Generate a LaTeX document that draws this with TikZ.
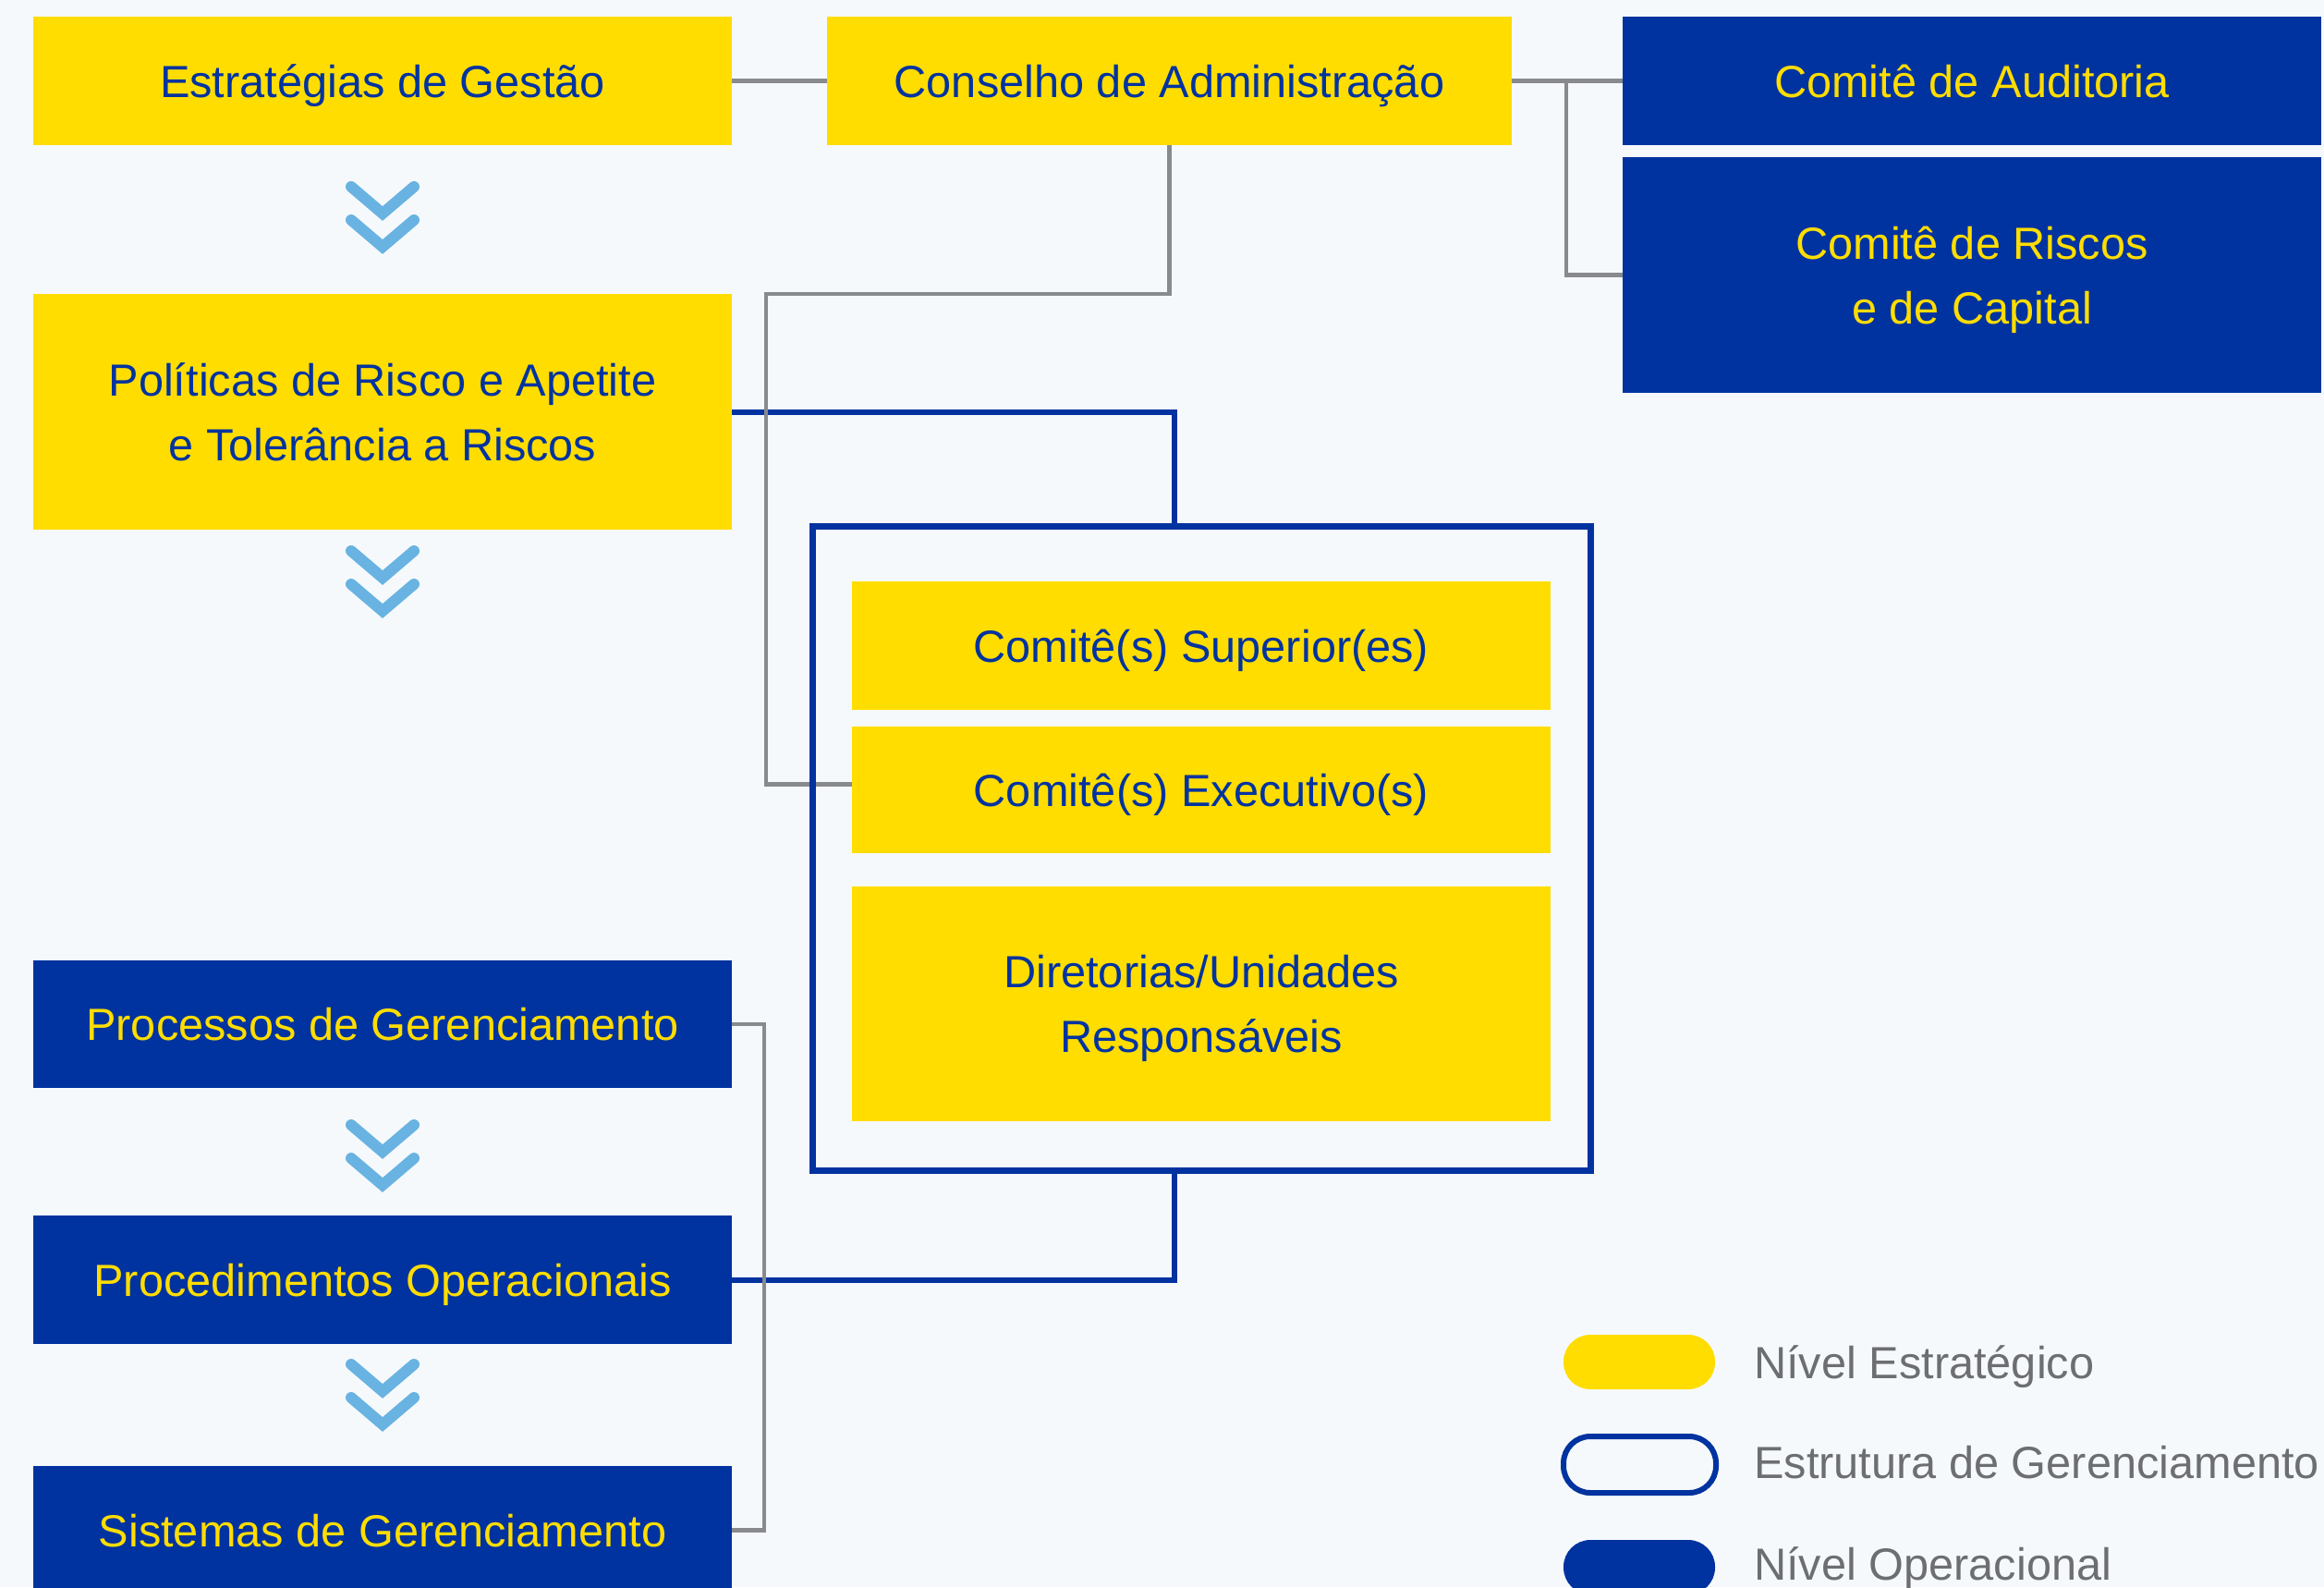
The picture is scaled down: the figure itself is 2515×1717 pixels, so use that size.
\documentclass[tikz,border=0pt]{standalone}
\usepackage{fontspec}
\setmainfont{Liberation Sans}
\definecolor{bg}{HTML}{F6F9FC}
\definecolor{ylw}{HTML}{FFDD00}
\definecolor{blu}{HTML}{0033A0}
\definecolor{chv}{HTML}{69B3E2}
\definecolor{gry}{HTML}{898A8D}
\definecolor{txtg}{HTML}{6D6E71}
\tikzset{
  x=1pt,y=-1pt,
  box/.style={inner sep=0pt, minimum width=756pt, align=center,
     font=\fontsize{48.7}{70}\selectfont, text height=35pt, text depth=0pt},
  two/.style={text height=105pt, text depth=0pt},
  ybox/.style={box, fill=ylw, text=blu},
  bbox/.style={box, fill=blu, text=ylw},
  gline/.style={draw=gry, line width=4.5pt},
  bline/.style={draw=blu, line width=6pt},
  chevline/.style={draw=chv, line width=12pt, line cap=round, line join=miter},
  pill/.style={inner sep=0pt, minimum width=164pt, minimum height=59pt, rounded corners=29pt},
  legtext/.style={anchor=base west, inner sep=0pt, text=txtg, font=\fontsize{48.7}{56}\selectfont}
}
\newcommand\chevron[2]{%
  \draw[chevline] (#1-34,#2) -- (#1,#2+29) -- (#1+34,#2);
  \draw[chevline] (#1-34,#2+36) -- (#1,#2+65) -- (#1+34,#2+36);
}
\begin{document}
\begin{tikzpicture}
\useasboundingbox (0,0) rectangle (2515,1717);
\fill[bg] (0,0) rectangle (2515,1717);

% boxes
\node[ybox, minimum height=139pt] (est) at (414,87.5) {Estratégias de Gestão};
\node[ybox, two, minimum height=255pt] (pol) at (414,445.5) {Políticas de Risco e Apetite\\e Tolerância a Riscos};
\node[ybox, minimum width=741pt, minimum height=139pt] (cons) at (1265.5,87.5) {Conselho de Administração};
\node[bbox, minimum height=139pt] (aud) at (2134,87.5) {Comitê de Auditoria};
\node[bbox, two, minimum height=255pt] (ris) at (2134,297.5) {Comitê de Riscos\\e de Capital};
\node[ybox, minimum height=139pt] (sup) at (1300,698.5) {Comitê(s) Superior(es)};
\node[ybox, minimum height=137pt] (exe) at (1300,854.5) {Comitê(s) Executivo(s)};
\node[ybox, two, minimum height=254pt] (dir) at (1300,1086) {Diretorias/Unidades\\Responsáveis};
\node[bbox, minimum height=138pt] (proc) at (414,1108) {Processos de Gerenciamento};
\node[bbox, minimum height=139pt] (pdm) at (414,1384.5) {Procedimentos Operacionais};
\node[bbox, minimum height=139pt] (sis) at (414,1655.5) {Sistemas de Gerenciamento};

% chevrons
\chevron{414}{202}
\chevron{414}{596}
\chevron{414}{1217}
\chevron{414}{1476}

% blue connectors
\coordinate (b1) at (1271,569);
\coordinate (b2) at (1271,1266);
\draw[bline] (pol.east) -| (b1);
\draw[bline] (pdm.east) -| (b2);

% gray connectors
\coordinate (jA) at (1695,87.5);
\coordinate (g1) at (829,318);
\draw[gline] (est.east) -- (cons.west);
\draw[gline] (cons.east) -- (aud.west);
\draw[gline] (jA) |- (ris.west);
\draw[gline] (cons.south) |- (g1) |- ([yshift=6pt]exe.west);
\draw[gline] (proc.east) -- ++(35,0) |- (sis.east);

% frame
\node[draw=blu, line width=7pt, inner sep=0pt, minimum width=842pt, minimum height=697pt] (frame) at (1300,917.5) {};

% legend
\node[pill, fill=ylw] (l1) at (1774,1473.5) {};
\node[pill, draw=blu, fill=bg, line width=6pt, minimum width=165pt, minimum height=61pt] (l2) at (1774.5,1584.5) {};
\node[pill, fill=blu] (l3) at (1774,1695.5) {};
\node[legtext] (t1) at (1898,1491) {Nível Estratégico};
\node[legtext] (t2) at (1898,1599) {Estrutura de Gerenciamento};
\node[legtext] (t3) at (1898,1709) {Nível Operacional};
\end{tikzpicture}
\end{document}
